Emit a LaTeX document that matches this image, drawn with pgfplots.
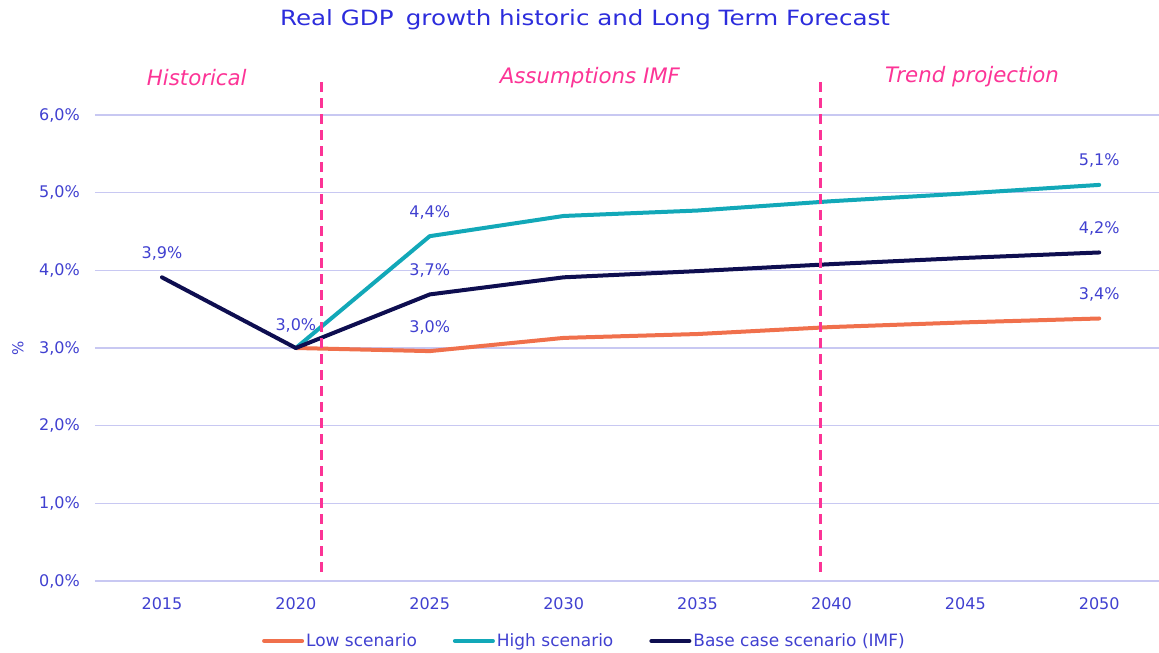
\documentclass[border=0pt]{standalone}
\usepackage{fontspec}
\setmainfont{DejaVu Sans}
\usepackage{graphicx}
\usepackage{pgfplots}
\pgfplotsset{compat=1.18}
\definecolor{lowc}{RGB}{240,112,76}
\definecolor{highc}{RGB}{18,168,184}
\definecolor{basec}{RGB}{14,14,80}
\definecolor{gridc}{RGB}{200,200,242}
\definecolor{txtc}{RGB}{64,64,208}
\definecolor{titlec}{RGB}{44,44,220}
\definecolor{pinkc}{RGB}{252,52,150}
\begin{document}
\begin{tikzpicture}
\path[use as bounding box] (-95pt,-72pt) rectangle (1064pt,581pt);
\begin{axis}[
  at={(0pt,0pt)}, anchor=south west,
  scale only axis, width=1064pt, height=512.6pt,
  xmin=-0.5, xmax=7.446, ymin=0, ymax=6.6,
  clip=false,
  axis line style={draw=none},
  tick style={draw=none},
  ymajorgrids,
  grid style={color=gridc, line width=1.5pt},
  xtick={0,1,2,3,4,5,6,7},
  xticklabels={2015,2020,2025,2030,2035,2040,2045,2050},
  ytick={0,1,2,3,4,5,6},
  yticklabels={{0,0\%},{1,0\%},{2,0\%},{3,0\%},{4,0\%},{5,0\%},{6,0\%}},
  ticklabel style={font=\fontsize{16}{19}\selectfont, text=txtc},
  yticklabel style={anchor=east, inner sep=0pt, xshift=-15pt},
  xticklabel style={anchor=north, inner sep=0pt, yshift=-16pt},
  legend style={at={(0.46,-0.117)}, anchor=center, draw=none, fill=none,
    legend columns=3, font=\fontsize{17}{20}\selectfont, text=txtc,
    /tikz/every even column/.append style={column sep=34pt},
    inner sep=0pt, cells={anchor=west}},
  legend image code/.code={\draw[#1, line width=4pt, line cap=round] (0pt,0pt) -- (38pt,0pt);},
]
\addplot[lowc, line width=4pt, line cap=round, line join=round] coordinates {
  (1,3.00) (2,2.96) (3,3.13) (4,3.18) (5,3.27) (6,3.33) (7,3.38)};
\addlegendentry{Low scenario}
\addplot[highc, line width=4pt, line cap=round, line join=round] coordinates {
  (1,3.00) (2,4.44) (3,4.70) (4,4.77) (5,4.89) (6,4.99) (7,5.10)};
\addlegendentry{High scenario}
\addplot[basec, line width=4pt, line cap=round, line join=round] coordinates {
  (0,3.91) (1,3.00) (2,3.69) (3,3.91) (4,3.99) (5,4.08) (6,4.16) (7,4.23)};
\addlegendentry{Base case scenario (IMF)}
\draw[pinkc, line width=3pt, dash pattern=on 10pt off 6pt] (axis cs:1.195,0.116) -- (axis cs:1.195,6.476);
\draw[pinkc, line width=3pt, dash pattern=on 10pt off 6pt] (axis cs:4.92,0.116) -- (axis cs:4.92,6.476);
\begin{scope}[every node/.style={font=\fontsize{16}{19}\selectfont, text=txtc}]
\node at (axis cs:0,3.91) [yshift=24pt] {3,9\%};
\node at (axis cs:1,3.00) [yshift=23pt] {3,0\%};
\node at (axis cs:2,4.44) [yshift=24pt] {4,4\%};
\node at (axis cs:2,3.69) [yshift=24pt] {3,7\%};
\node at (axis cs:2,2.96) [yshift=24pt] {3,0\%};
\node at (axis cs:7,5.10) [yshift=24pt] {5,1\%};
\node at (axis cs:7,4.23) [yshift=24pt] {4,2\%};
\node at (axis cs:7,3.38) [yshift=24pt] {3,4\%};
\end{scope}
\begin{scope}[every node/.style={font=\fontsize{21.3}{25}\selectfont\itshape, text=pinkc}]
\node at (axis cs:0.26,6.476) {Historical};
\node at (axis cs:3.196,6.476) {Assumptions IMF};
\node at (axis cs:6.05,6.49) {Trend projection};
\end{scope}
\node[rotate=90, font=\fontsize{15}{19}\selectfont, text=txtc] at (axis description cs:-0.0724,0.4545) {\%};
\end{axis}
\node[font=\fontsize{21}{24}\selectfont, text=titlec] at (490pt,561pt) {\scalebox{1.17}[1]{Real GDP\hspace{0.5em}growth historic and Long Term Forecast}};
\end{tikzpicture}
\end{document}
